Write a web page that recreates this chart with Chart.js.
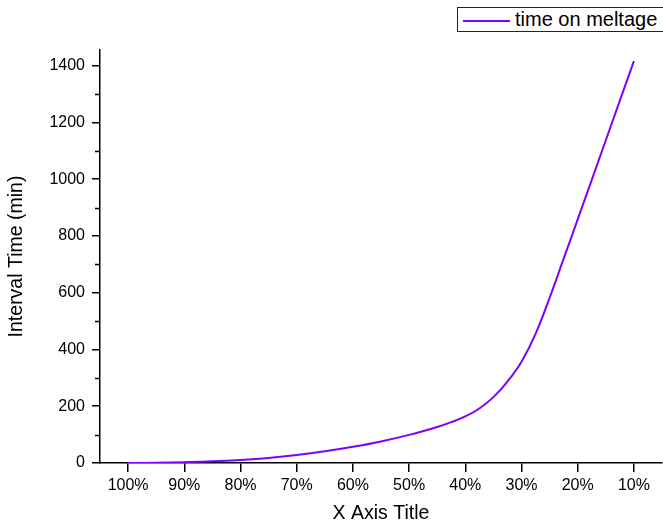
<!DOCTYPE html>
<html>
<head>
<meta charset="utf-8">
<script src="https://cdn.jsdelivr.net/npm/chart.js@4.4.1/dist/chart.umd.min.js"></script>
<style>
  html, body { margin: 0; padding: 0; background: #fff; }
  #wrap { position: relative; width: 663px; height: 526px; overflow: hidden; }
  #legend { position: absolute; left: 457px; top: 7px; width: 220px; height: 25px;
    border: 1px solid #222; box-sizing: border-box; background: #fff;
    font-family: "Liberation Sans", Arial, sans-serif; font-size: 20px; color: #000; }
  #legend .sw { position: absolute; left: 5px; top: 11.5px; width: 47px; height: 2px; background: #7f00ff; }
  #legend .tx { position: absolute; left: 57px; top: 0px; line-height: 23px; white-space: nowrap; }
</style>
</head>
<body>
<div id="wrap">
  <canvas id="c" width="663" height="526"></canvas>
  <div id="legend"><div class="sw"></div><div class="tx">time on meltage</div></div>
</div>
<script>
const xPercent = [100, 95, 90, 85, 80, 75, 70, 65, 60, 55, 50, 45, 42.5, 40, 37.5, 35, 32.5, 30, 27.5, 25, 22.5, 20, 15, 10];
const meltTime = [0, 1, 3, 6, 11, 18, 28, 41, 57, 76, 99, 127, 144, 164, 192, 232, 287, 357, 455, 582, 720, 858, 1137, 1416];
const xTickValues = [100, 90, 80, 70, 60, 50, 40, 30, 20, 10];
const yTickValues = [0, 200, 400, 600, 800, 1000, 1200, 1400];
const yMinorValues = [100, 300, 500, 700, 900, 1100, 1300];
const seriesName = "time on meltage";
const xTitle = "X Axis Title";
const yTitle = "Interval Time (min)";

const FONT = "'Liberation Sans', Arial, sans-serif";

const minorTicks = {
  id: 'minorTicks',
  afterDraw(chart) {
    const y = chart.scales.y;
    const ctx = chart.ctx;
    ctx.save();
    ctx.strokeStyle = '#000';
    ctx.lineWidth = 1.5;
    yMinorValues.forEach(v => {
      const py = Math.round(y.getPixelForValue(v)) + 0.5;
      ctx.beginPath();
      ctx.moveTo(y.right - 5, py);
      ctx.lineTo(y.right, py);
      ctx.stroke();
    });
    ctx.restore();
  }
};

new Chart(document.getElementById('c'), {
  type: 'line',
  data: {
    datasets: [{
      label: seriesName,
      data: xPercent.map((x, i) => ({ x: x, y: meltTime[i] })),
      borderColor: '#7f00ff',
      borderWidth: 2,
      pointRadius: 0,
      fill: false,
      tension: 0.4
    }]
  },
  options: {
    responsive: false,
    animation: false,
    layout: { padding: { top: 50, right: 1, left: 0, bottom: 0 } },
    plugins: { legend: { display: false }, tooltip: { enabled: false } },
    scales: {
      x: {
        type: 'linear',
        reverse: true,
        min: 5,
        max: 105,
        afterBuildTicks: s => { s.ticks = xTickValues.map(v => ({ value: v })); },
        afterFit: s => { s.height = 63; },
        border: { display: true, color: '#000', width: 1.5 },
        grid: { display: true, drawOnChartArea: false, drawTicks: true, tickLength: 9, color: '#000', lineWidth: 1.5 },
        ticks: { color: '#000', font: { family: FONT, size: 16 }, padding: 4, maxRotation: 0,
          callback: v => v + '%' },
        title: { display: true, text: xTitle, color: '#000', font: { family: FONT, size: 19.5 },
          padding: { top: 0, bottom: 1 } }
      },
      y: {
        type: 'linear',
        min: 0,
        max: 1455,
        afterBuildTicks: s => { s.ticks = yTickValues.map(v => ({ value: v })); },
        afterFit: s => { s.width = 100; },
        border: { display: true, color: '#000', width: 1.5 },
        grid: { display: true, drawOnChartArea: false, drawTicks: true, tickLength: 8, color: '#000', lineWidth: 1.5 },
        ticks: { color: '#000', font: { family: FONT, size: 16 }, padding: 7,
          callback: v => String(v) },
        title: { display: true, text: yTitle, color: '#000', font: { family: FONT, size: 19.5 },
          padding: { top: 5, bottom: 0 } }
      }
    }
  },
  plugins: [minorTicks]
});
</script>
</body>
</html>
